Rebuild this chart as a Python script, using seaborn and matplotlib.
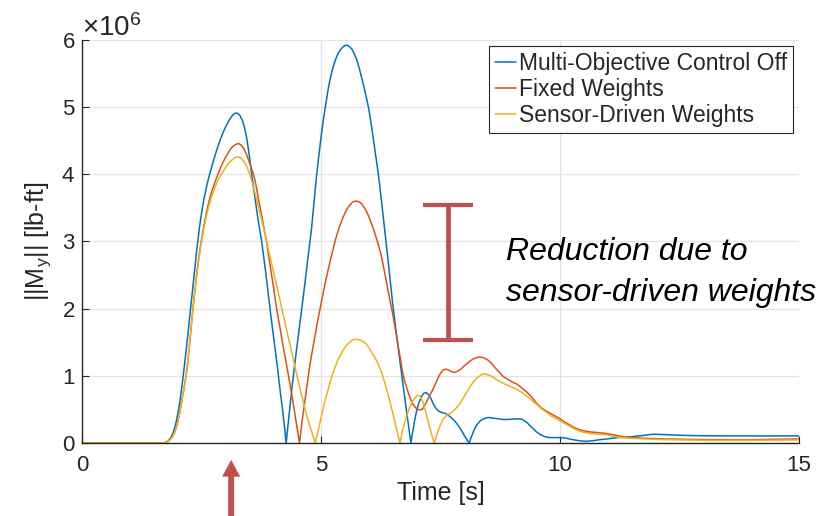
import numpy as np
import pandas as pd
import matplotlib
matplotlib.use("Agg")
import matplotlib.pyplot as plt
import seaborn as sns

# ---- data (moment in units of 1e6 lb-ft) ----
t_off = [0.0, 1.6, 1.7, 1.75, 1.8, 1.85, 1.9, 1.95, 2.0, 2.05, 2.1, 2.15, 2.2, 2.25, 2.3, 2.35,
         2.4, 2.45, 2.5, 2.55, 2.6, 2.65, 2.7, 2.75, 2.8, 2.85, 2.9, 2.95, 3.0, 3.05, 3.1, 3.15,
         3.2, 3.25, 3.3, 3.35, 3.4, 3.45, 3.5, 3.55, 3.6, 3.65, 3.7, 3.75, 3.8, 3.85, 3.9, 3.95,
         4.0, 4.05, 4.1, 4.15, 4.2, 4.25, 4.27,
         4.3, 4.35, 4.4, 4.45, 4.5, 4.55, 4.6, 4.65, 4.7, 4.75, 4.8, 4.85, 4.9, 4.95, 5.0, 5.05,
         5.1, 5.15, 5.2, 5.25, 5.3, 5.35, 5.4, 5.45, 5.5, 5.55, 5.6, 5.65, 5.7, 5.75, 5.8, 5.85,
         5.9, 5.95, 6.0, 6.05, 6.1, 6.15, 6.2, 6.25, 6.3, 6.35, 6.4, 6.45, 6.5, 6.55, 6.6, 6.65,
         6.7, 6.75, 6.8, 6.85, 6.88,
         6.95, 7.0, 7.05, 7.1, 7.15, 7.2, 7.25, 7.3, 7.35, 7.4, 7.45, 7.5, 7.55, 7.6, 7.66, 7.72,
         7.78, 7.84, 7.9, 7.95, 8.0, 8.05, 8.1, 8.15, 8.2, 8.25, 8.33, 8.4, 8.5, 8.6, 8.7, 8.81,
         8.9, 9.0, 9.1, 9.2, 9.3, 9.4, 9.5, 9.6, 9.7, 9.8, 9.9, 10.0, 10.1, 10.2, 10.3, 10.45,
         10.56, 10.7, 10.85, 10.98, 11.2, 11.46, 11.7, 11.95, 12.2, 12.5, 12.8, 13.5, 14.2, 15.0]
m_off = [0.0, 0.0, 0.0, 0.01, 0.03, 0.07, 0.14, 0.25, 0.42, 0.63, 0.9, 1.2, 1.52, 1.86, 2.2, 2.53,
         2.87, 3.17, 3.42, 3.63, 3.8, 3.95, 4.08, 4.2, 4.32, 4.43, 4.53, 4.62, 4.7, 4.77, 4.83, 4.88,
         4.91, 4.91, 4.88, 4.81, 4.7, 4.52, 4.28, 4.0, 3.74, 3.49, 3.25, 3.04, 2.78, 2.5, 2.2, 1.9,
         1.62, 1.35, 1.06, 0.75, 0.47, 0.15, 0.0,
         0.2, 0.52, 0.87, 1.17, 1.45, 1.73, 2.0, 2.3, 2.6, 2.89, 3.18, 3.55, 3.93, 4.25, 4.55, 4.82,
         5.05, 5.27, 5.45, 5.59, 5.7, 5.79, 5.85, 5.89, 5.92, 5.92, 5.9, 5.86, 5.79, 5.7, 5.58, 5.44,
         5.3, 5.14, 4.97, 4.75, 4.5, 4.25, 4.0, 3.7, 3.38, 3.06, 2.74, 2.4, 2.07, 1.78, 1.5, 1.22,
         0.95, 0.68, 0.42, 0.16, 0.0,
         0.3, 0.48, 0.6, 0.69, 0.74, 0.75, 0.72, 0.66, 0.58, 0.52, 0.48, 0.46, 0.45, 0.44, 0.415, 0.38,
         0.34, 0.29, 0.23, 0.17, 0.11, 0.05, 0.0, 0.1, 0.19, 0.26, 0.33, 0.36, 0.38, 0.37, 0.36, 0.35,
         0.35, 0.355, 0.36, 0.355, 0.31, 0.24, 0.17, 0.12, 0.09, 0.08, 0.08, 0.08, 0.075, 0.06, 0.045, 0.03,
         0.025, 0.035, 0.05, 0.06, 0.08, 0.09, 0.11, 0.13, 0.125, 0.115, 0.11, 0.105, 0.105, 0.105]

t_fixed = [0.0, 1.6, 1.7, 1.75, 1.8, 1.85, 1.9, 1.95, 2.0, 2.05, 2.1, 2.15, 2.2, 2.25, 2.3, 2.35,
           2.4, 2.45, 2.5, 2.55, 2.6, 2.65, 2.7, 2.75, 2.8, 2.85, 2.9, 2.95, 3.0, 3.05, 3.1, 3.15,
           3.2, 3.27, 3.32, 3.38, 3.44, 3.5, 3.55, 3.6, 3.65, 3.7, 3.75, 3.8, 3.86, 3.9, 3.95, 4.0,
           4.05, 4.1, 4.15, 4.2, 4.25, 4.3, 4.35, 4.4, 4.45, 4.5, 4.55,
           4.6, 4.65, 4.7, 4.75, 4.8, 4.85, 4.9, 4.95, 5.0, 5.05, 5.1, 5.15, 5.2, 5.25, 5.3, 5.35,
           5.4, 5.45, 5.5, 5.55, 5.6, 5.65, 5.7, 5.75, 5.8, 5.85, 5.9, 5.95, 6.0, 6.05, 6.1, 6.15,
           6.2, 6.25, 6.3, 6.35, 6.4, 6.45, 6.5, 6.55, 6.6, 6.65, 6.7, 6.75, 6.8, 6.85, 6.9, 6.95,
           7.0, 7.07, 7.13, 7.2, 7.27, 7.35, 7.4, 7.45, 7.5, 7.56, 7.62, 7.68, 7.74, 7.8, 7.86, 7.93,
           8.0, 8.05, 8.12, 8.18, 8.25, 8.31, 8.37, 8.43, 8.5, 8.56, 8.62, 8.68, 8.75, 8.81, 8.88, 8.95,
           9.02, 9.09, 9.15, 9.2, 9.3, 9.4, 9.5, 9.58, 9.7, 9.8, 9.9, 10.0, 10.1, 10.2, 10.3, 10.4,
           10.5, 10.63, 10.8, 10.98, 11.1, 11.2, 11.3, 11.46, 11.8, 12.2, 13.0, 14.0, 15.0]
m_fixed = [0.0, 0.0, 0.0, 0.008, 0.025, 0.055, 0.1, 0.18, 0.3, 0.47, 0.68, 0.88, 1.12, 1.47, 1.85, 2.2,
           2.52, 2.8, 3.03, 3.24, 3.42, 3.58, 3.71, 3.82, 3.92, 4.01, 4.1, 4.18, 4.25, 4.31, 4.37, 4.41,
           4.44, 4.46, 4.44, 4.39, 4.3, 4.18, 4.08, 3.97, 3.8, 3.6, 3.42, 3.22, 3.0, 2.8, 2.58, 2.35,
           2.1, 1.88, 1.68, 1.47, 1.28, 1.08, 0.88, 0.67, 0.45, 0.23, 0.0,
           0.3, 0.56, 0.83, 1.08, 1.3, 1.5, 1.7, 1.89, 2.07, 2.25, 2.42, 2.58, 2.73, 2.88, 3.02, 3.14,
           3.25, 3.34, 3.42, 3.49, 3.54, 3.58, 3.6, 3.6, 3.59, 3.56, 3.51, 3.45, 3.37, 3.28, 3.18, 3.07,
           2.95, 2.82, 2.65, 2.47, 2.28, 2.1, 1.92, 1.72, 1.5, 1.3, 1.08, 0.92, 0.8, 0.7, 0.61, 0.55,
           0.51, 0.49, 0.51, 0.6, 0.7, 0.81, 0.89, 0.97, 1.04, 1.09, 1.1, 1.08, 1.06, 1.05, 1.07, 1.1,
           1.15, 1.18, 1.22, 1.25, 1.27, 1.28, 1.275, 1.26, 1.23, 1.19, 1.14, 1.09, 1.04, 0.99, 0.96, 0.93,
           0.9, 0.88, 0.85, 0.82, 0.76, 0.69, 0.6, 0.54, 0.48, 0.44, 0.4, 0.36, 0.31, 0.27, 0.23, 0.2,
           0.18, 0.165, 0.155, 0.14, 0.125, 0.11, 0.095, 0.08, 0.07, 0.06, 0.05, 0.05, 0.06]

t_sensor = [0.0, 1.6, 1.7, 1.75, 1.8, 1.85, 1.9, 1.95, 2.0, 2.05, 2.1, 2.15, 2.2, 2.25, 2.3, 2.35,
            2.4, 2.45, 2.5, 2.55, 2.6, 2.65, 2.7, 2.75, 2.8, 2.85, 2.9, 2.95, 3.0, 3.05, 3.1, 3.15,
            3.2, 3.27, 3.33, 3.4, 3.45, 3.51, 3.56, 3.62, 3.68, 3.74, 3.8, 3.85, 3.9, 3.95, 4.0, 4.05,
            4.1, 4.15, 4.2, 4.25, 4.3, 4.35, 4.4, 4.45, 4.5, 4.55, 4.6, 4.65, 4.7, 4.75, 4.8, 4.85, 4.88,
            4.95, 5.0, 5.05, 5.1, 5.15, 5.2, 5.25, 5.3, 5.35, 5.4, 5.45, 5.5, 5.55, 5.6, 5.65, 5.7,
            5.77, 5.83, 5.9, 5.95, 6.0, 6.05, 6.1, 6.15, 6.2, 6.25, 6.3, 6.35, 6.4, 6.45, 6.5, 6.55,
            6.6, 6.65, 6.7, 6.75, 6.8, 6.85, 6.9, 6.95, 7.02, 7.07, 7.12, 7.17, 7.22, 7.27, 7.32, 7.37,
            7.42, 7.48, 7.56, 7.63, 7.7, 7.77, 7.84, 7.91, 7.97, 8.02, 8.07, 8.12, 8.18, 8.25, 8.32, 8.4,
            8.47, 8.55, 8.62, 8.68, 8.78, 8.9, 9.0, 9.09, 9.16, 9.23, 9.3, 9.37, 9.45, 9.52, 9.58, 9.65,
            9.73, 9.82, 9.9, 10.0, 10.1, 10.2, 10.3, 10.4, 10.5, 10.63, 10.8, 10.98, 11.1, 11.2, 11.3,
            11.46, 11.8, 12.2, 13.0, 14.0, 15.0]
m_sensor = [0.0, 0.0, 0.0, 0.008, 0.025, 0.055, 0.1, 0.18, 0.3, 0.47, 0.68, 0.88, 1.12, 1.47, 1.85, 2.2,
            2.5, 2.77, 3.0, 3.2, 3.37, 3.52, 3.64, 3.75, 3.84, 3.92, 3.98, 4.04, 4.1, 4.15, 4.19, 4.22,
            4.25, 4.26, 4.24, 4.18, 4.11, 4.0, 3.88, 3.72, 3.55, 3.37, 3.2, 3.04, 2.88, 2.72, 2.56, 2.41,
            2.26, 2.1, 1.94, 1.78, 1.62, 1.47, 1.31, 1.15, 0.99, 0.84, 0.69, 0.55, 0.42, 0.29, 0.18, 0.07, 0.0,
            0.22, 0.38, 0.53, 0.67, 0.8, 0.93, 1.04, 1.14, 1.23, 1.3, 1.37, 1.42, 1.47, 1.5, 1.53, 1.54,
            1.545, 1.53, 1.5, 1.47, 1.42, 1.36, 1.3, 1.24, 1.17, 1.08, 0.98, 0.86, 0.73, 0.59, 0.45, 0.3,
            0.15, 0.0, 0.17, 0.3, 0.42, 0.52, 0.6, 0.66, 0.71, 0.7, 0.63, 0.52, 0.38, 0.24, 0.11, 0.0,
            0.12, 0.24, 0.36, 0.41, 0.44, 0.48, 0.53, 0.59, 0.66, 0.72, 0.78, 0.84, 0.9, 0.96, 1.0, 1.03,
            1.02, 1.0, 0.97, 0.94, 0.9, 0.86, 0.83, 0.8, 0.77, 0.74, 0.7, 0.66, 0.61, 0.57, 0.53, 0.49,
            0.45, 0.4, 0.37, 0.33, 0.29, 0.25, 0.21, 0.18, 0.16, 0.14, 0.13, 0.12, 0.1, 0.09, 0.08,
            0.07, 0.06, 0.05, 0.04, 0.04, 0.045]

labels = ["Multi-Objective Control Off", "Fixed Weights", "Sensor-Driven Weights"]
colors = ["#0072BD", "#D95319", "#EDB120"]

# annotation: reduction bar and arrow
bar_t = 7.66
bar_lo, bar_hi = 1.53, 3.54
arrow_t = 3.12

SCALE = 1e6

frames = []
for lab, tt, mm in zip(labels, [t_off, t_fixed, t_sensor], [m_off, m_fixed, m_sensor]):
    frames.append(pd.DataFrame({"time": tt, "moment": np.array(mm) * SCALE, "case": lab}))
df = pd.concat(frames, ignore_index=True)

sns.set_theme(style="whitegrid")
plt.rcParams['font.family'] = ['Liberation Sans', 'DejaVu Sans']
plt.rcParams['mathtext.fontset'] = 'custom'
plt.rcParams['mathtext.rm'] = 'Liberation Sans'
plt.rcParams['mathtext.it'] = 'Liberation Sans:italic'

fig = plt.figure(figsize=(8.26, 5.16), dpi=100)
ax = fig.add_axes([0.0993, 0.1415, 0.868, 0.781])

sns.lineplot(data=df, x="time", y="moment", hue="case", hue_order=labels,
             palette=colors, linewidth=1.1, errorbar=None, ax=ax)

ax.set_xlim(0, 15)
ax.set_ylim(0, 6 * SCALE)
ax.set_xticks([0, 5, 10, 15])
ax.set_yticks(np.arange(0, 7) * SCALE)
ax.ticklabel_format(axis='y', style='sci', scilimits=(6, 6), useMathText=True)

ax.set_facecolor('white')
ax.grid(True, color='#E3E3E3', linewidth=0.9)
for s in ['top', 'right']:
    ax.spines[s].set_visible(False)
for s in ['left', 'bottom']:
    ax.spines[s].set_color('#262626')
    ax.spines[s].set_linewidth(1.0)
ax.tick_params(axis='both', direction='in', length=5, width=0.8, color='#262626',
               labelcolor='#262626', labelsize=16, left=True, bottom=True)
ax.tick_params(axis='x', pad=9)
ax.tick_params(axis='y', pad=5)
ax.yaxis.get_offset_text().set_fontsize(20)
ax.yaxis.get_offset_text().set_color('#262626')

ax.set_xlabel("Time [s]", fontsize=18, color='#262626', labelpad=3)
ax.set_ylabel(r"||M$_\mathregular{y}$|| [lb-ft]", fontsize=18, color='#262626', labelpad=6)

leg = ax.legend(loc='upper right', fontsize=16.5, frameon=True, fancybox=False,
                framealpha=1, edgecolor='#262626', borderpad=0.28, labelspacing=0.12,
                handlelength=0.9, handletextpad=0.12, borderaxespad=0.25, title=None)
leg.get_frame().set_linewidth(0.8)
for h in leg.get_lines():
    h.set_linewidth(1.1)

# reduction bar
ax.errorbar([bar_t], [(bar_lo + bar_hi) / 2 * SCALE], yerr=[(bar_hi - bar_lo) / 2 * SCALE],
            fmt='none', ecolor='#C0504D', elinewidth=3.4, capsize=18, capthick=3.0, zorder=5)
ax.text(8.88, 2.54 * SCALE, "Reduction due to\nsensor-driven weights", fontsize=23,
        style='italic', va='center', ha='left', linespacing=1.48, color='black', clip_on=False)

# arrow below the axis
ax.annotate('', xy=(arrow_t, -0.042), xycoords=('data', 'axes fraction'),
            xytext=(arrow_t, -0.2), textcoords=('data', 'axes fraction'),
            arrowprops=dict(arrowstyle='simple,head_width=1.3,head_length=1.2,tail_width=0.43',
                            mutation_scale=10, color='#C0504D', lw=0, shrinkA=0, shrinkB=0),
            annotation_clip=False)

fig.savefig("out.png", dpi=100)
